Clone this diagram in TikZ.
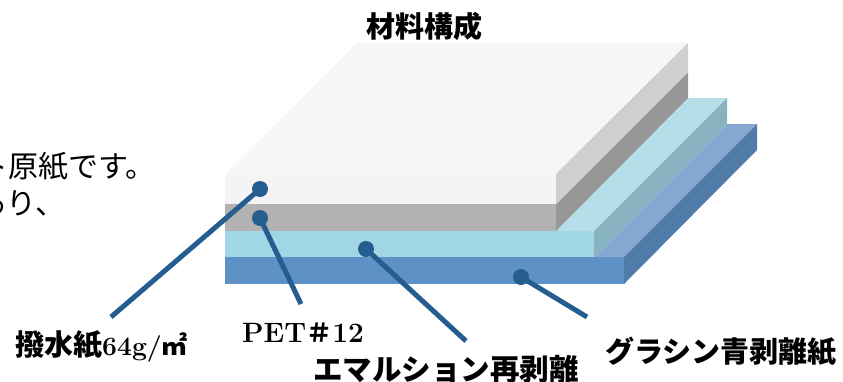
\documentclass[tikz,border=0pt]{standalone}
\usepackage{fontspec}
\newfontfamily\cjk{Noto Sans CJK JP}
\setmainfont{Latin Modern Roman}
\tikzset{
 x=1pt,y=-1pt,
 leader/.style={draw=leadc,line width=5pt},
 dotm/.style={circle,fill=leadc,draw=none,minimum size=16pt,inner sep=0pt},
 lab/.style={inner sep=0pt,anchor=west,text=black}
}
\definecolor{leadc}{HTML}{255D91}
\begin{document}
\begin{tikzpicture}
\useasboundingbox (0,0) rectangle (843,381);
\clip (0,0) rectangle (843,381);
% blue layer
\fill[fill={rgb,255:red,94;green,146;blue,199}] (225,257) rectangle (624,284);
\fill[fill={rgb,255:red,133;green,169;blue,211}] (594,257) -- (727,124) -- (757,124) -- (624,257) -- cycle;
\fill[fill={rgb,255:red,81;green,123;blue,168}] (624,257) -- (757,124) -- (757,150) -- (624,284) -- cycle;
% cyan layer
\fill[fill={rgb,255:red,161;green,214;blue,228}] (225,231) rectangle (594,257);
\fill[fill={rgb,255:red,181;green,222;blue,232}] (556,231) -- (688,98) -- (727,98) -- (594,231) -- cycle;
\fill[fill={rgb,255:red,136;green,178;blue,191}] (594,231) -- (727,98) -- (727,124) -- (594,257) -- cycle;
% grey layer
\fill[fill={rgb,255:red,178;green,178;blue,178}] (225,204) rectangle (556,231);
\fill[fill={rgb,255:red,151;green,151;blue,151}] (556,204) -- (688,72) -- (688,98) -- (556,231) -- cycle;
% white layer
\fill[fill={rgb,255:red,244;green,244;blue,244}] (225,174) rectangle (556,204);
\fill[fill={rgb,255:red,246;green,246;blue,246}] (225,174) -- (357,43) -- (688,43) -- (556,174) -- cycle;
\fill[fill={rgb,255:red,207;green,207;blue,207}] (556,174) -- (688,43) -- (688,72) -- (556,204) -- cycle;
% leaders
\node[dotm] (d1) at (260,189) {};
\node[dotm] (d2) at (260,218) {};
\node[dotm] (d3) at (366,249) {};
\node[dotm] (d4) at (521,277) {};
\coordinate (e1) at (111,317);
\coordinate (e2) at (301,304);
\coordinate (e3) at (466,341);
\coordinate (e4) at (587,317);
\draw[leader] (d1.center) -- (e1);
\draw[leader] (d2.center) -- (e2);
\draw[leader] (d3.center) -- (e3);
\draw[leader] (d4.center) -- (e4);
% texts
\node[lab,font=\cjk\bfseries\fontsize{29}{29}\selectfont] (t0) at (366,26) {材料構成};
\node[lab,font=\cjk\fontsize{30}{30}\selectfont] (t1) at (-22,166) {ト原紙です。};
\node[lab,font=\cjk\fontsize{30}{30}\selectfont] (t2) at (-24,203) {あり、};
\node[lab,font=\fontsize{26.5}{26.5}\selectfont\bfseries] (t3) at (15,346) {{\cjk\fontsize{29}{29}\selectfont 撥水紙}64g/{\cjk\fontsize{26}{26}\selectfont ㎡}};
\node[lab,font=\fontsize{28}{28}\selectfont\bfseries] (t4) at (242,333) {PET{\cjk\fontsize{26}{26}\selectfont ＃}12};
\node[lab,font=\cjk\bfseries\fontsize{29.5}{29.5}\selectfont] (t5) at (313,369) {エマルション再剥離};
\node[lab,font=\cjk\bfseries\fontsize{29}{29}\selectfont] (t6) at (605,352) {グラシン青剥離紙};
\end{tikzpicture}
\end{document}
